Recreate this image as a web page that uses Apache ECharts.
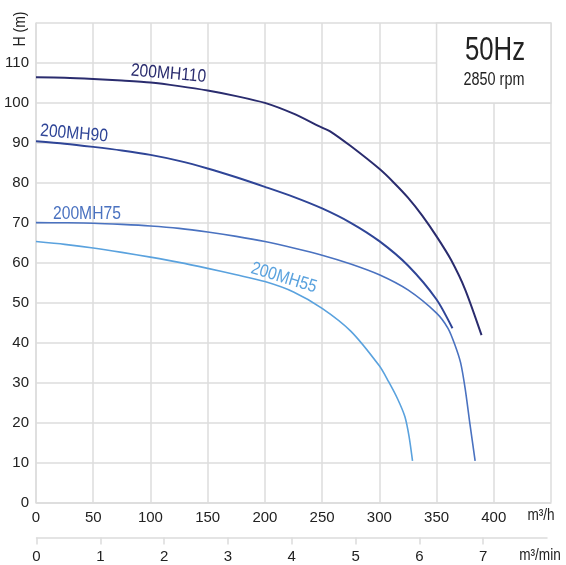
<!DOCTYPE html>
<html>
<head>
<meta charset="utf-8">
<script src="https://cdn.jsdelivr.net/npm/echarts@6/dist/echarts.min.js"></script>
<style>html,body{margin:0;padding:0;background:#fff}#c{width:566px;height:565px}</style>
</head>
<body>
<div id="c"></div>
<script>
// m3/h flow vs head (m)
var Q110 = [0,25,50,75,100,125,150,175,200,225,250,257,275,300,312.5,325,337.5,350,362.5,375,389.3];
var H110 = [106.4,106.3,106.0,105.6,105.1,104.2,103.1,101.7,100.0,97.3,93.8,92.9,89.2,83.5,80.1,76.3,71.8,66.6,60.8,53.3,41.9];
var Q90 = [0,25,50,75,100,125,150,175,200,225,250,275,300,325,350,363.9];
var H90 = [90.4,89.8,89.0,88.1,87.0,85.5,83.6,81.4,79.0,76.5,73.6,70.0,65.4,59.3,50.8,43.6];
var Q75 = [0,25,50,75,100,125,150,175,200,225,250,275,300,325,350,360,366,371,375,379,383.7];
var H75 = [70.05,70.0,69.9,69.6,69.2,68.6,67.7,66.6,65.3,63.7,61.9,59.7,57.0,53.2,47.4,43.6,39.5,35.0,28.5,20.0,10.4];
var Q55 = [0,25,50,75,100,125,150,175,200,225,250,275,300,308,316,322.3,326,329];
var H55 = [65.3,64.6,63.7,62.6,61.4,60.1,58.6,57.0,55.3,52.7,48.6,42.9,34.2,30.3,25.9,21.5,16.5,10.4];
var names = ['200MH110','200MH90','200MH75','200MH55'];
var labelQ = [115.7, 33.2, 44.5, 216.6];
var labelH = [107.3, 92.3, 72.3, 56.2];
var labelRot = [-5, -5, 0, -17];
var yTicks = [0,10,20,30,40,50,60,70,80,90,100,110];
var xTicks = [0,50,100,150,200,250,300,350,400];
var minTicks = [0,1,2,3,4,5,6,7];

var FONT = "'Liberation Sans','Arial',sans-serif";
var TXT = '#222222';
var GRIDC = '#dcdcdc';
var COLORS = ['#2a2c6e','#2f4597','#4a72c0','#5aa2de'];
var WIDTHS = [2, 2, 1.6, 1.6];

function pairs(q,h){ return q.map(function(v,i){ return [v,h[i]]; }); }
var QS = [Q110,Q90,Q75,Q55], HS = [H110,H90,H75,H55];

var chart = echarts.init(document.getElementById('c'), null, {renderer:'canvas'});
var series = names.map(function(n,i){
  return {
    type:'line', name:n, data:pairs(QS[i],HS[i]), xAxisIndex:0, yAxisIndex:0,
    showSymbol:false, symbol:'none', smooth:0.25,
    lineStyle:{color:COLORS[i], width:WIDTHS[i]}, itemStyle:{color:COLORS[i]}, z:3
  };
});
series[0].markArea = {silent:true, itemStyle:{color:'#ffffff', borderColor:GRIDC, borderWidth:1.5},
  data:[[{coord:[350,100]},{coord:[450,120]}]]};

var option = {
  animation:false,
  backgroundColor:'#ffffff',
  grid:[
    {left:36, right:15, top:23, bottom:62.5, containLabel:false},
    {left:36.5, right:19, top:23, bottom:27.5, containLabel:false}
  ],
  xAxis:[
    {type:'value', gridIndex:0, min:0, max:450, interval:50,
     axisLine:{show:true, lineStyle:{color:GRIDC, width:1.5}},
     axisTick:{show:false},
     axisLabel:{color:TXT, fontFamily:FONT, fontSize:15, margin:8, customValues:xTicks},
     splitLine:{show:true, lineStyle:{color:GRIDC, width:1.5}}},
    {type:'value', gridIndex:1, min:0, max:8, interval:1,
     axisLine:{show:true, lineStyle:{color:GRIDC, width:1.5}},
     axisTick:{show:true, length:7, lineStyle:{color:GRIDC, width:1.5}, customValues:minTicks},
     axisLabel:{color:TXT, fontFamily:FONT, fontSize:15, margin:12, customValues:minTicks},
     splitLine:{show:false}}
  ],
  yAxis:[
    {type:'value', gridIndex:0, min:0, max:120, interval:10,
     axisLine:{show:true, lineStyle:{color:GRIDC, width:1.5}},
     axisTick:{show:false},
     axisLabel:{color:TXT, fontFamily:FONT, fontSize:15, margin:7, customValues:yTicks},
     splitLine:{show:true, lineStyle:{color:GRIDC, width:1.5}}},
    {type:'value', gridIndex:1, show:false, min:0, max:1}
  ],
  series:series
};
chart.setOption(option);

var g = [
  {type:'text', x:495, y:51, scaleX:0.78, style:{text:'50Hz', fill:TXT, font:'33px '+FONT, textAlign:'center', textVerticalAlign:'middle'}, z:10},
  {type:'text', x:494, y:80, scaleX:0.8, style:{text:'2850 rpm', fill:TXT, font:'18px '+FONT, textAlign:'center', textVerticalAlign:'middle'}, z:10},
  {type:'text', x:21, y:29, rotation:Math.PI/2, scaleX:0.87, style:{text:'H (m)', fill:TXT, font:'16px '+FONT, textAlign:'center', textVerticalAlign:'middle'}, z:10},
  {type:'text', x:541, y:516, scaleX:0.85, style:{text:'m³/h', fill:TXT, font:'16px '+FONT, textAlign:'center', textVerticalAlign:'middle'}, z:10},
  {type:'text', x:540, y:556, scaleX:0.85, style:{text:'m³/min', fill:TXT, font:'16px '+FONT, textAlign:'center', textVerticalAlign:'middle'}, z:10}
];
names.forEach(function(n,i){
  var p = chart.convertToPixel({gridIndex:0}, [labelQ[i], labelH[i]]);
  g.push({type:'text', x:p[0], y:p[1], rotation:labelRot[i]*Math.PI/180, scaleX:0.87,
    style:{text:n, fill:COLORS[i], font:'18px '+FONT, textAlign:'center', textVerticalAlign:'middle'}, z:10});
});
chart.setOption({graphic:g});
</script>
</body>
</html>
